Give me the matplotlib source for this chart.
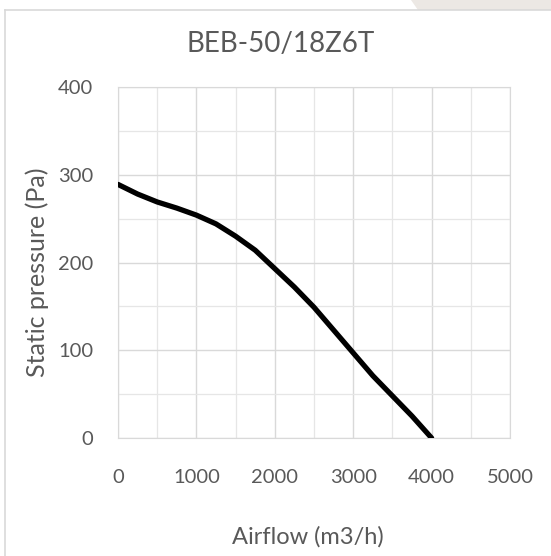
import matplotlib.pyplot as plt
from matplotlib.patches import Polygon
from matplotlib.lines import Line2D

# fan curve
airflow = [0, 250, 500, 750, 1000, 1250, 1500, 1750, 2000, 2250, 2500, 2750, 3000, 3250, 3500, 3750, 4000]
pressure = [289, 278, 269, 262, 254, 244, 230, 214, 193, 172, 149, 123, 97, 71, 48, 25, 0]

x_ticks = [0, 1000, 2000, 3000, 4000, 5000]
y_ticks = [0, 100, 200, 300, 400]

plt.rcParams['font.family'] = ['Lato', 'DejaVu Sans']
txt = '#595959'

fig = plt.figure(figsize=(5.51, 5.56), dpi=100)

# page background corner and chart frame
fig.patches.append(Polygon([[411/551, 1], [1, 1], [1, 1 - 10/556], [418/551, 1 - 10/556]],
                           closed=True, transform=fig.transFigure, facecolor='#ece8e4',
                           edgecolor='none'))
fig.lines.append(Line2D([5/551, 5/551], [0, 1 - 10/556], transform=fig.transFigure,
                        color='#d9d9d9', lw=1.2))
fig.lines.append(Line2D([5/551, 1], [1 - 10/556, 1 - 10/556], transform=fig.transFigure,
                        color='#d9d9d9', lw=1.2))

ax = fig.add_axes([118/551, 118/556, 392/551, 351/556])
ax.plot(airflow, pressure, color='black', linewidth=3.8, solid_capstyle='round', zorder=3)

ax.set_xlim(0, 5000)
ax.set_ylim(0, 400)
ax.set_xticks(x_ticks)
ax.set_yticks(y_ticks)
ax.set_xticks(range(500, 5000, 1000), minor=True)
ax.set_yticks(range(50, 400, 100), minor=True)
ax.grid(which='major', color='#d9d9d9', linewidth=1.0)
ax.grid(which='minor', color='#e6e6e6', linewidth=0.9)
ax.set_axisbelow(True)
for s in ax.spines.values():
    s.set_color('#d9d9d9')
ax.tick_params(which='both', length=0, colors=txt, labelsize=14.5)
ax.tick_params(axis='x', pad=22)
ax.tick_params(axis='y', pad=18)

# title is centred on the whole chart box, not the plot area
ax.set_title('BEB-50/18Z6T', color=txt, fontsize=20, x=0.416, y=1.10, va='center')
ax.set_xlabel('Airflow (m3/h)', color=txt, fontsize=17, va='center')
ax.xaxis.set_label_coords(0.485, -0.282)
ax.set_ylabel('Static pressure (Pa)', color=txt, fontsize=18, va='center')
ax.yaxis.set_label_coords(-0.206, 0.473)

fig.savefig('out.png', dpi=100)
